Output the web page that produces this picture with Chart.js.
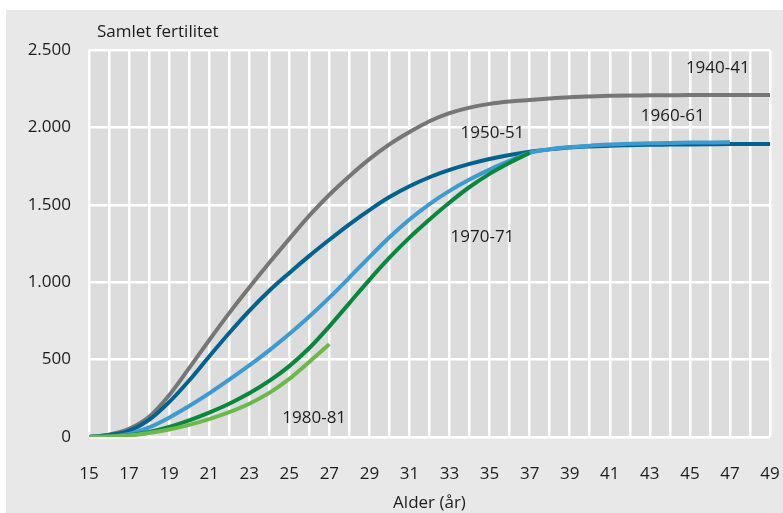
<!DOCTYPE html>
<html>
<head>
<meta charset="utf-8">
<script src="https://cdn.jsdelivr.net/npm/chart.js@4/dist/chart.umd.min.js"></script>
<style>
    html, body { margin: 0; padding: 0; background: #ffffff; }
    #frame {
        position: absolute;
        left: 6px;
        top: 10px;
        width: 777px;
        height: 503px;
        background: #e8e8e8;
    }
</style>
</head>
<body>
<div id="frame"><canvas id="chart" width="777" height="503"></canvas></div>
<script>
// Ages (x axis) and cumulative fertility per 1000 women, by birth cohort
const ages = [15, 16, 17, 18, 19, 20, 21, 22, 23, 24, 25, 26, 27, 28, 29, 30, 31, 32,
    33, 34, 35, 36, 37, 38, 39, 40, 41, 42, 43, 44, 45, 46, 47, 48, 49];

const cohort1940 = [0, 15, 52, 130, 270, 445, 625, 800, 965, 1125, 1280, 1430, 1565, 1685, 1795,
    1890, 1970, 2040, 2092, 2128, 2152, 2167, 2177, 2187, 2195, 2200, 2204, 2206, 2207,
    2208, 2209, 2209, 2210, 2210, 2210];
const cohort1950 = [0, 13, 40, 110, 225, 365, 520, 672, 815, 945, 1060, 1170, 1274, 1374, 1466,
    1550, 1620, 1678, 1725, 1764, 1796, 1822, 1843, 1858, 1870, 1877, 1882, 1885, 1888,
    1889, 1890, 1891, 1892, 1892, 1893];
const cohort1960 = [0, 5, 20, 62, 125, 200, 282, 370, 462, 560, 665, 778, 900, 1030, 1162,
    1290, 1405, 1505, 1590, 1663, 1727, 1785, 1835, 1858, 1872, 1882, 1889, 1894, 1897,
    1900, 1902, 1903, 1904];
const cohort1970 = [0, 3, 12, 32, 65, 108, 158, 215, 282, 362, 458, 575, 715, 865, 1015,
    1158, 1288, 1405, 1515, 1615, 1700, 1772, 1835];
const cohort1980 = [0, 3, 10, 26, 48, 78, 115, 160, 215, 285, 375, 485, 600];

const cohortNames = ["1940-41", "1950-51", "1960-61", "1970-71", "1980-81"];
const cohortColors = ["#767676", "#03628f", "#3d9bd2", "#0a873d", "#6cb84c"];

// label anchors: [age, value] for the left/middle of each cohort name
const labelAnchors = [[44.8, 2384], [33.55, 1964], [42.55, 2070], [33.05, 1292], [24.65, 123]];

const yTicks = [0, 500, 1000, 1500, 2000, 2500];

function toPoints(values) {
    return values.map(function (v, i) {
        return { x: ages[i], y: v };
    });
}

function formatThousands(value) {
    return String(value).replace(/\B(?=(\d{3})+(?!\d))/g, ".");
}

const fontFamily = "'Open Sans', 'Noto Sans', sans-serif";
const textColor = "#1c1c1c";

const plotBackground = {
    id: "plotBackground",
    beforeDraw: function (chart) {
        const area = chart.chartArea;
        const ctx = chart.ctx;
        ctx.save();
        ctx.fillStyle = "#dcdcdc";
        ctx.fillRect(area.left, area.top, area.right - area.left, area.bottom - area.top);
        ctx.restore();
    }
};

const cohortLabels = {
    id: "cohortLabels",
    afterDatasetsDraw: function (chart) {
        const ctx = chart.ctx;
        const xScale = chart.scales.x;
        const yScale = chart.scales.y;
        ctx.save();
        ctx.font = "17px " + fontFamily;
        ctx.fillStyle = textColor;
        ctx.textBaseline = "middle";
        ctx.textAlign = "left";
        labelAnchors.forEach(function (anchor, i) {
            ctx.fillText(cohortNames[i], xScale.getPixelForValue(anchor[0]),
                yScale.getPixelForValue(anchor[1]));
        });
        // y axis title, top left
        ctx.fillText("Samlet fertilitet", 91, 22);
        ctx.restore();
    }
};

const seriesValues = [cohort1940, cohort1950, cohort1960, cohort1970, cohort1980];

new Chart(document.getElementById("chart").getContext("2d"), {
    type: "line",
    data: {
        datasets: seriesValues.map(function (values, i) {
            return {
                label: cohortNames[i],
                data: toPoints(values),
                borderColor: cohortColors[i],
                backgroundColor: cohortColors[i],
                borderWidth: 4,
                pointRadius: 0,
                fill: false,
                cubicInterpolationMode: "monotone",
                borderCapStyle: "butt",
                order: seriesValues.length - i
            };
        })
    },
    options: {
        responsive: false,
        animation: false,
        layout: {
            padding: { left: 0, right: 13, top: 40, bottom: 0 }
        },
        plugins: {
            legend: { display: false },
            tooltip: { enabled: false }
        },
        scales: {
            x: {
                type: "linear",
                min: 15,
                max: 49,
                border: { display: false },
                // invisible tick marks push the labels down without widening the side padding
                grid: {
                    color: "#ffffff",
                    lineWidth: 2.5,
                    drawTicks: true,
                    tickLength: 27,
                    tickColor: "rgba(0,0,0,0)"
                },
                ticks: {
                    stepSize: 1,
                    autoSkip: false,
                    maxRotation: 0,
                    padding: 0,
                    color: textColor,
                    font: { family: fontFamily, size: 17 },
                    callback: function (value) {
                        return value % 2 === 1 ? String(value) : "";
                    }
                },
                title: {
                    display: true,
                    text: "Alder (år)",
                    color: textColor,
                    font: { family: fontFamily, size: 17 },
                    padding: { top: 0, bottom: 0 }
                },
                afterFit: function (scale) {
                    scale.height = 76;
                }
            },
            y: {
                min: 0,
                max: 2500,
                border: { display: false },
                grid: { color: "#ffffff", lineWidth: 2.5, drawTicks: false },
                afterBuildTicks: function (scale) {
                    scale.ticks = yTicks.map(function (v) { return { value: v }; });
                },
                ticks: {
                    padding: 18,
                    color: textColor,
                    font: { family: fontFamily, size: 17 },
                    callback: function (value) {
                        return formatThousands(value);
                    }
                },
                afterFit: function (scale) {
                    scale.width = 83;
                }
            }
        }
    },
    plugins: [plotBackground, cohortLabels]
});
</script>
</body>
</html>
